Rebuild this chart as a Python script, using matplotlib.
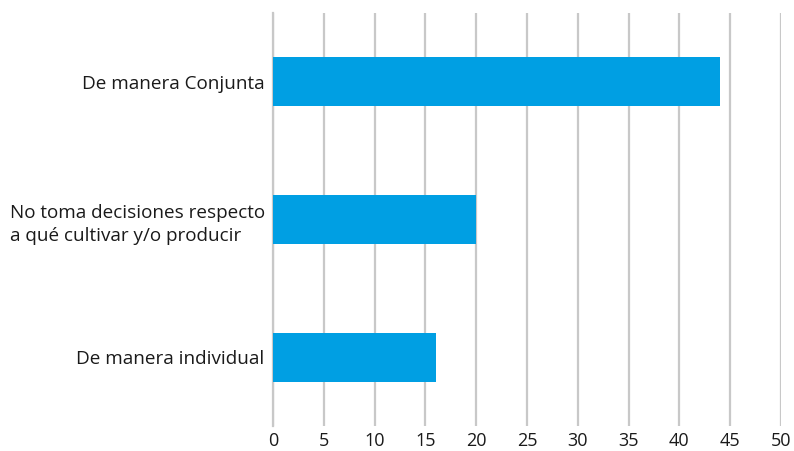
import matplotlib.pyplot as plt

categorias = ['De manera Conjunta',
              'No toma decisiones respecto\na qué cultivar y/o producir',
              'De manera individual']
valores = [44, 20, 16]
ticks_x = [0, 5, 10, 15, 20, 25, 30, 35, 40, 45, 50]

plt.rcParams['font.family'] = ['Open Sans', 'DejaVu Sans']

fig = plt.figure(figsize=(7.94, 4.51), dpi=100)
ax = fig.add_axes([0.3438, 0.0554, 0.6398, 0.9158])

y = range(len(categorias))
ax.barh(y, valores, height=0.355, color='#009fe3', zorder=3)

ax.set_xlim(0, 50)
ax.set_ylim(2.5, -0.5)
ax.set_xticks(ticks_x)
ax.set_yticks(list(y))
ax.set_yticklabels(categorias, fontsize=13.6, color='#1a1a1a', linespacing=1.4)
for t in ax.get_yticklabels():
    t.set_multialignment('left')
ax.tick_params(axis='x', labelsize=13, labelcolor='#1a1a1a', length=0, pad=4)
ax.tick_params(axis='y', length=0, pad=6)

ax.grid(axis='x', color='#c8c8c8', linewidth=1.6, zorder=0)
for s in ['top', 'right', 'bottom']:
    ax.spines[s].set_visible(False)
ax.spines['left'].set_color('#c8c8c8')
ax.spines['left'].set_linewidth(1.6)

fig.savefig('out.png', dpi=100)
